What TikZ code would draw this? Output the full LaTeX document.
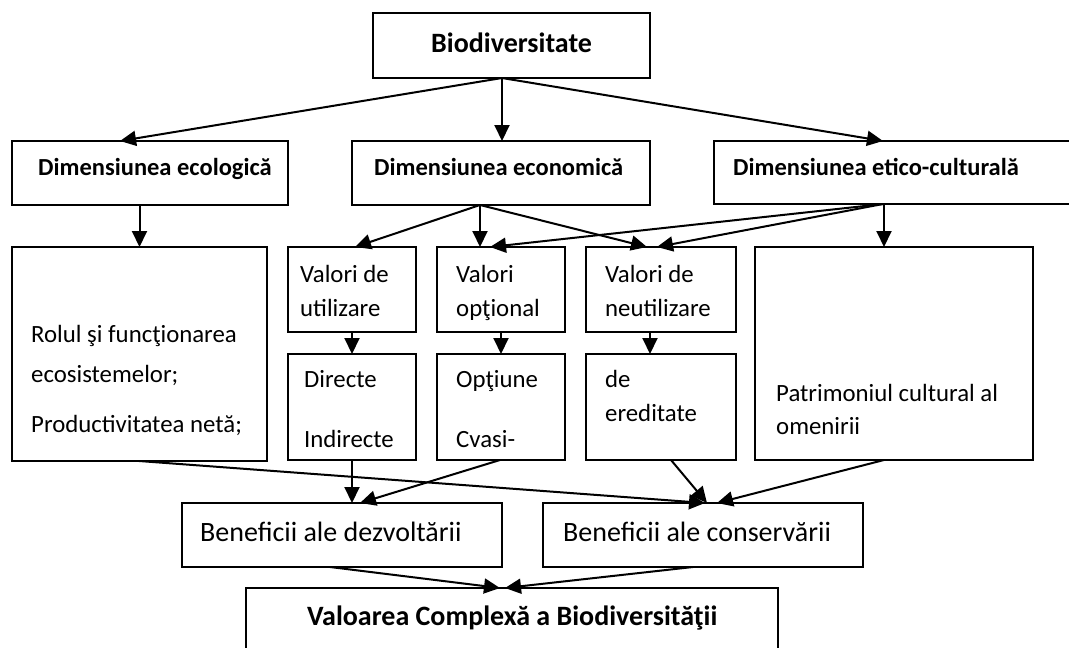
\documentclass[tikz,border=0pt]{standalone}
\usepackage{fontspec}
\setmainfont{Carlito}
\usetikzlibrary{arrows.meta,calc,fit}
\begin{document}
\begin{tikzpicture}[x=1pt,y=-1pt,
  box/.style={draw, line width=1.6pt, inner sep=0pt, outer sep=0pt},
  arr/.style={line width=2pt, -{Triangle[length=16pt,width=15pt]}},
  bt/.style={inner sep=0pt, anchor=base west, font=\fontsize{24.5}{28}\selectfont\bfseries},
  bbt/.style={inner sep=0pt, anchor=base west, font=\fontsize{28}{32}\selectfont\bfseries},
  rt/.style={inner sep=0pt, anchor=base west, font=\fontsize{24.8}{28}\selectfont},
  brt/.style={inner sep=0pt, anchor=base west, font=\fontsize{28}{32}\selectfont}]
\useasboundingbox (0,0) rectangle (1069,648);
\clip (0,0) rectangle (1069,648);
% boxes
\node[box, fit={(373,13) (650,78)}] (bio) {};
\node[box, fit={(12,141) (288,205)}] (eco) {};
\node[box, fit={(352,141) (650,205)}] (econ) {};
\node[box, fit={(714,141) (1085,204)}] (etic) {};
\node[box, fit={(12,247) (267,461)}] (rol) {};
\node[box, fit={(288,247) (416,332)}] (util) {};
\node[box, fit={(437,247) (565,332)}] (opt) {};
\node[box, fit={(586,247) (736,332)}] (neut) {};
\node[box, fit={(755,247) (1033,460)}] (pat) {};
\node[box, fit={(288,354) (416,460)}] (dir) {};
\node[box, fit={(437,354) (565,460)}] (optn) {};
\node[box, fit={(586,354) (736,460)}] (ered) {};
\node[box, fit={(182,503) (502,567)}] (bdez) {};
\node[box, fit={(543,503) (863,567)}] (bcon) {};
\node[box, fit={(246,588) (778,670)}] (val) {};
% texts
\node[bbt] (tbio) at (431,52) {Biodiversitate};
\node[bt] (teco) at (38,175) {Dimensiunea ecologică};
\node[bt] (tecon) at (374,175) {Dimensiunea economică};
\node[bt] (tetic) at (733,175) {Dimensiunea etico-culturală};
\node[rt] (tutil1) at (300,282) {Valori de};
\node[rt] (tutil2) at (300,316) {utilizare};
\node[rt] (topt1) at (456,282) {Valori};
\node[rt] (topt2) at (456,316) {opţional};
\node[rt] (tneut1) at (605,282) {Valori de};
\node[rt] (tneut2) at (605,316) {neutilizare};
\node[rt] (tdir1) at (304,387) {Directe};
\node[rt] (tdir2) at (304,447) {Indirecte};
\node[rt] (toptn1) at (456,387) {Opţiune};
\node[rt] (toptn2) at (456,447) {Cvasi-};
\node[rt] (tered1) at (605,387) {de};
\node[rt] (tered2) at (605,421) {ereditate};
\node[rt] (trol1) at (31,342) {Rolul şi funcţionarea};
\node[rt] (trol2) at (31,382) {ecosistemelor;};
\node[rt] (trol3) at (31,432) {Productivitatea netă;};
\node[rt] (tpat1) at (776,401) {Patrimoniul cultural al};
\node[rt] (tpat2) at (776,434) {omenirii};
\node[brt] (tbdez) at (200,541) {Beneficii ale dezvoltării};
\node[brt] (tbcon) at (563,541) {Beneficii ale conservării};
\node[bbt] (tval) at (307,625) {Valoarea Complexă a Biodiversităţii};
% arrows
\draw[arr] ($(bio.south west)+(129,0)$) -- ($(eco.north west)+(108,0)$);
\draw[arr] ($(bio.south west)+(129,0)$) -- ($(econ.north west)+(150,0)$);
\draw[arr] ($(bio.south west)+(129,0)$) -- ($(etic.north west)+(169,0)$);
\draw[arr] ($(eco.south west)+(127.5,0)$) -- ($(rol.north west)+(127.5,0)$);
\draw[arr] ($(econ.south west)+(128,0)$) -- ($(util.north west)+(67,0)$);
\draw[arr] ($(econ.south west)+(128,0)$) -- ($(opt.north west)+(43,0)$);
\draw[arr] ($(econ.south west)+(128,0)$) -- ($(neut.north west)+(61,0)$);
\draw[arr] ($(etic.south west)+(169,0)$) -- ($(opt.north west)+(53,0)$);
\draw[arr] ($(etic.south west)+(169,0)$) -- ($(neut.north west)+(71,0)$);
\draw[arr] ($(etic.south west)+(170,0)$) -- ($(pat.north west)+(129,0)$);
\draw[arr] ($(util.south west)+(64,0)$) -- ($(dir.north west)+(64,0)$);
\draw[arr] ($(opt.south west)+(64,0)$) -- ($(optn.north west)+(64,0)$);
\draw[arr] ($(neut.south west)+(64,0)$) -- ($(ered.north west)+(64,0)$);
\draw[arr] ($(rol.south west)+(127,0)$) -- ($(bcon.north west)+(162,0)$);
\draw[arr] ($(dir.south west)+(64,0)$) -- ($(bdez.north west)+(170,0)$);
\draw[arr] ($(optn.south west)+(63,0)$) -- ($(bdez.north west)+(178,0)$);
\draw[arr] ($(ered.south west)+(85,0)$) -- ($(bcon.north west)+(164,0)$);
\draw[arr] ($(pat.south west)+(129,0)$) -- ($(bcon.north west)+(174,0)$);
\draw[arr] ($(bdez.south west)+(148,0)$) -- ($(val.north west)+(254,0)$);
\draw[arr] ($(bcon.south west)+(150,0)$) -- ($(val.north west)+(259,0)$);
\end{tikzpicture}
\end{document}
